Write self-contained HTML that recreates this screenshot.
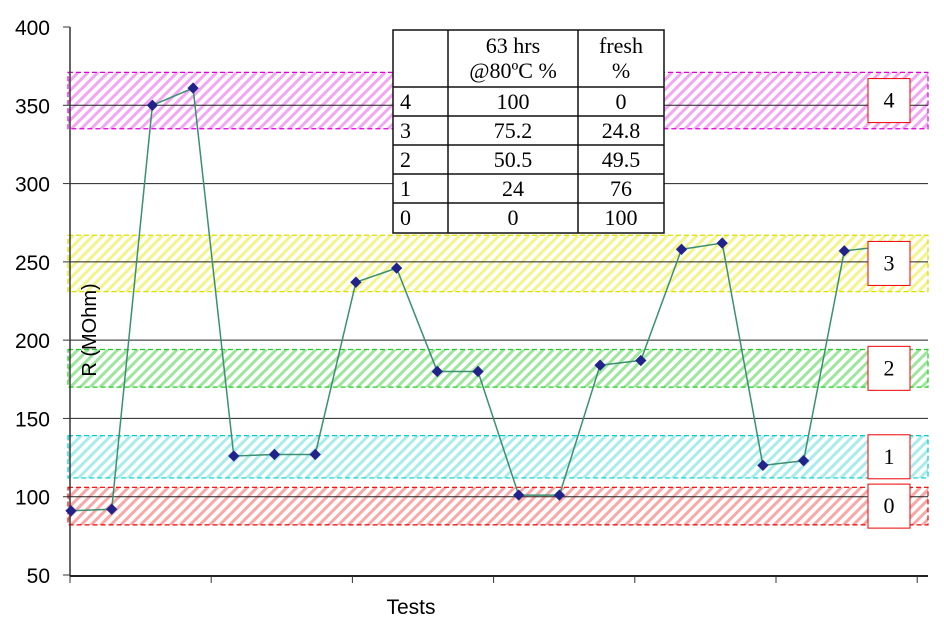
<!DOCTYPE html>
<html><head><meta charset="utf-8"><style>
body{margin:0;background:#fff;}
svg{display:block;font-family:"Liberation Sans",sans-serif;}
.tt{font-family:"Liberation Serif",serif;font-size:22px;}
</style></head><body>
<svg id="chart" width="944" height="633" viewBox="0 0 944 633">
<defs id="defs"></defs>
<g id="bands"></g>
<g id="grid"></g>
<g id="axes"></g>
<g id="series"></g>
<g id="labels"></g>
<text x="411" y="614" font-size="21" text-anchor="middle">Tests</text>
<text transform="translate(96,330) rotate(-90)" font-size="20" text-anchor="middle">R (MOhm)</text>
<g id="table"></g>
</svg>
<script>
const values=[91,92,350,361,126,127,127,237,246,180,180,101,101,184,187,258,262,120,123,257,260];
const yTicks=[50,100,150,200,250,300,350,400];
const bandLabels=["0","1","2","3","4"];
const bandLow=[82,112,170,231,335];
const bandHigh=[106,139,194,267,371];
const bandColors=["#f9a8a8","#a8ecec","#9de69d","#f4f48a","#f3a6f3"];
const bandBorder=["#e00","#0cc","#2c2","#dd0","#d0d"];
const tableHead=["","63 hrs|@80ºC  %","fresh|%"];
const tableRows=[["4","100","0"],["3","75.2","24.8"],["2","50.5","49.5"],["1","24","76"],["0","0","100"]];
const NS="http://www.w3.org/2000/svg";
function mk(tag,attrs,parent){const e=document.createElementNS(NS,tag);for(const k in attrs)e.setAttribute(k,attrs[k]);parent.appendChild(e);return e;}
const y=v=>575-(v-50)*(548/350);
const x=i=>71+i*40.7;
const G=id=>document.getElementById(id);
bandLow.forEach((lo,i)=>{
 const pat=mk('pattern',{id:'h'+i,width:7,height:7,patternUnits:'userSpaceOnUse',patternTransform:'rotate(45)'},G('defs'));
 mk('rect',{width:3,height:7,fill:bandColors[i]},pat);
 const r=mk('rect',{x:68,y:y(bandHigh[i]),width:860,height:y(lo)-y(bandHigh[i]),fill:'url(#h'+i+')'},G('bands'));
 
 
 mk('rect',{x:68,y:y(bandHigh[i]),width:860,height:y(lo)-y(bandHigh[i]),fill:'none',stroke:bandBorder[i],'stroke-dasharray':'5,3','stroke-width':1.2},G('bands'));
 const cy=(y(lo)+y(bandHigh[i]))/2;
 const b=mk('rect',{x:868,y:cy-22,width:42,height:44,fill:'#fff',stroke:'#e00','stroke-width':1},G('labels'));
 
 
 const t=mk('text',{x:889,y:cy+7,'text-anchor':'middle',class:'tt'},G('labels'));t.textContent=bandLabels[i];
});
yTicks.forEach(v=>{
 if(v>50&&v<400){const l=mk('line',{x1:70,x2:928,y1:y(v),y2:y(v),stroke:'#222','stroke-width':1},G('grid'));
 
 }
 mk('line',{x1:63,x2:70,y1:y(v),y2:y(v),stroke:'#333'},G('axes'));
 const t=mk('text',{x:50,y:y(v)+8,'font-size':21,'text-anchor':'end'},G('axes'));t.textContent=v;
 
 
});
mk('line',{x1:70,x2:70,y1:27,y2:576,stroke:'#333','stroke-width':1.5},G('axes'));
mk('line',{x1:70,x2:928,y1:576,y2:576,stroke:'#222','stroke-width':2},G('axes'));
for(let k=0;k<7;k++)mk('line',{x1:70+k*141.2,x2:70+k*141.2,y1:576,y2:583,stroke:'#333'},G('axes'));
const path=mk('polyline',{points:values.map((v,i)=>x(i)+','+y(v)).join(' '),fill:'none',stroke:'#3a9070','stroke-width':1.5},G('series'));


values.forEach((v,i)=>{
 const p=mk('rect',{x:x(i)-4,y:y(v)-4,width:8,height:8,fill:'#22238a',transform:`rotate(45 ${x(i)} ${y(v)})`},G('series'));
 
 
});
const T=G('table');
const cx=[393,448,578,664], ry=[30,87,116,145,174,203,233];
mk('rect',{x:393,y:30,width:271,height:203,fill:'#fff',stroke:'#111','stroke-width':1.5},T);
cx.slice(1,3).forEach(c=>mk('line',{x1:c,x2:c,y1:30,y2:233,stroke:'#111','stroke-width':1.5},T));
ry.slice(1,6).forEach(r=>mk('line',{x1:393,x2:664,y1:r,y2:r,stroke:'#111','stroke-width':1.5},T));
tableHead.forEach((h,c)=>{h.split('|').forEach((s,j)=>{if(!s)return;const t=mk('text',{x:(cx[c]+cx[c+1])/2,y:53+j*25,'text-anchor':'middle',class:'tt'},T);t.textContent=s;});});
tableRows.forEach((row,r)=>row.forEach((s,c)=>{
 const t=mk('text',{x:c===0?400:(cx[c]+cx[c+1])/2,y:ry[r+1]+22,'text-anchor':c===0?'start':'middle',class:'tt'},T);t.textContent=s;
}));
</script>
</body></html>
